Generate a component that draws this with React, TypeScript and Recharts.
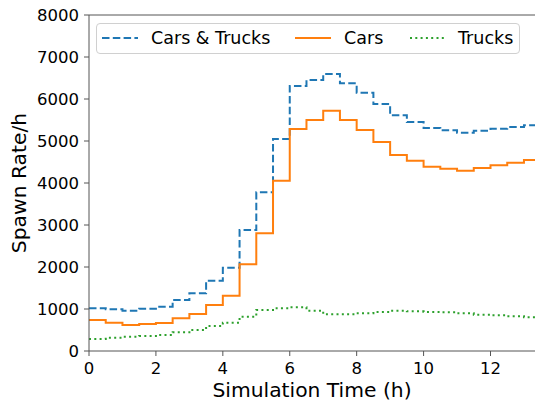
import { Line, LineChart, ReferenceLine, XAxis, YAxis } from "recharts";

// half-hour bins, last bin is cut at the end of the run
const hours = [
  0, 0.5, 1, 1.5, 2, 2.5, 3, 3.5, 4, 4.5, 5, 5.5, 6, 6.5, 7, 7.5, 8, 8.5, 9, 9.5, 10, 10.5, 11, 11.5, 12, 12.5, 13,
];
const endHour = 13.33;

const carsAndTrucks = [
  1016, 992, 960, 1008, 1056, 1214, 1373, 1675, 1984, 2881, 3778, 5048, 6310, 6452, 6595, 6373, 6151, 5881, 5611,
  5452, 5310, 5254, 5198, 5246, 5294, 5333, 5373,
];
const cars = [
  738, 675, 619, 643, 667, 778, 881, 1095, 1317, 2063, 2802, 4056, 5286, 5500, 5722, 5500, 5262, 4976, 4667, 4532,
  4389, 4341, 4293, 4357, 4421, 4484, 4548,
];
const trucks = [
  286, 317, 341, 357, 381, 444, 500, 595, 675, 817, 976, 1016, 1040, 960, 873, 873, 897, 929, 960, 944, 929, 921, 897,
  865, 849, 825, 802,
];

const xTicks = [0, 2, 4, 6, 8, 10, 12];
const yTicks = [0, 1000, 2000, 3000, 4000, 5000, 6000, 7000, 8000];

const last = hours.length - 1;
const data = [
  ...hours.map((t, i) => ({ t, both: carsAndTrucks[i], cars: cars[i], trucks: trucks[i] })),
  { t: endHour, both: carsAndTrucks[last], cars: cars[last], trucks: trucks[last] },
];

const FONT = "'DejaVu Sans', sans-serif";
const SPINE = "#555";
const BLUE = "#1f77b4";
const ORANGE = "#ff7f0e";
const GREEN = "#2ca02c";

const legendItems = [
  { label: "Cars & Trucks", color: BLUE, dash: "7.5 3.3", x: 5, tx: 54 },
  { label: "Cars", color: ORANGE, dash: undefined, x: 198, tx: 247 },
  { label: "Trucks", color: GREEN, dash: "2 3.3", x: 313, tx: 361 },
];

function ChartLegend() {
  return (
    <div
      style={{
        position: "absolute",
        left: 96,
        top: 23,
        width: 424,
        height: 31,
        boxSizing: "border-box",
        border: "1px solid #d0d0d0",
        borderRadius: 4,
        background: "rgba(255,255,255,0.8)",
        fontFamily: FONT,
        fontSize: 17.5,
        color: "#000",
      }}
    >
      {legendItems.map((item) => (
        <div key={item.label}>
          <svg style={{ position: "absolute", left: item.x, top: 12 }} width={36} height={4}>
            <line x1={0} x2={36} y1={2} y2={2} stroke={item.color} strokeWidth={2} strokeDasharray={item.dash} />
          </svg>
          <span style={{ position: "absolute", left: item.tx, top: 3.5, lineHeight: "20px", whiteSpace: "nowrap" }}>
            {item.label}
          </span>
        </div>
      ))}
    </div>
  );
}

export default function App() {
  return (
    <div style={{ position: "absolute", left: 0, top: 0, width: 535, height: 407, background: "#fff" }}>
      <LineChart width={535} height={407} data={data} margin={{ top: 15, right: 0, bottom: 0, left: 0 }}>
        <XAxis
          dataKey="t"
          type="number"
          domain={[0, endHour]}
          ticks={xTicks}
          allowDataOverflow
          height={56}
          tickSize={5}
          tickMargin={6}
          stroke={SPINE}
          tick={{ fill: "#000", fontSize: 16.5, fontFamily: FONT }}
          label={{
            content: () => (
              <text x={312} y={390} textAnchor="middle" dominantBaseline="central" fontSize={20.3} fontFamily={FONT}>
                Simulation Time (h)
              </text>
            ),
          }}
        />
        <YAxis
          type="number"
          domain={[0, 8000]}
          ticks={yTicks}
          width={89}
          tickSize={5}
          tickMargin={5}
          stroke={SPINE}
          tick={{ fill: "#000", fontSize: 16.5, fontFamily: FONT }}
          label={{
            content: () => (
              <text
                x={19}
                y={183}
                transform="rotate(-90 19 183)"
                textAnchor="middle"
                dominantBaseline="central"
                fontSize={20.3}
                fontFamily={FONT}
              >
                Spawn Rate/h
              </text>
            ),
          }}
        />
        <ReferenceLine y={8000} stroke={SPINE} strokeWidth={1} />
        <Line
          dataKey="both"
          type="stepAfter"
          stroke={BLUE}
          strokeWidth={2}
          strokeDasharray="7.5 3.3"
          dot={false}
          isAnimationActive={false}
        />
        <Line dataKey="cars" type="stepAfter" stroke={ORANGE} strokeWidth={2} dot={false} isAnimationActive={false} />
        <Line
          dataKey="trucks"
          type="stepAfter"
          stroke={GREEN}
          strokeWidth={2}
          strokeDasharray="2 3.3"
          dot={false}
          isAnimationActive={false}
        />
      </LineChart>
      <ChartLegend />
    </div>
  );
}
